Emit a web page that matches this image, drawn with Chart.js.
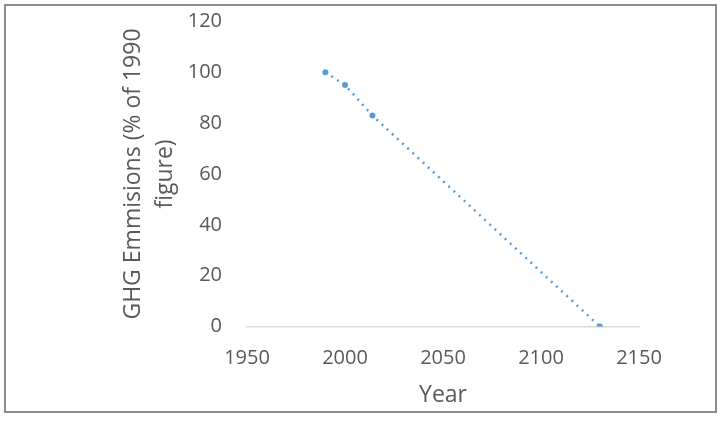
<!DOCTYPE html>
<html>
<head>
<meta charset="utf-8">
<script src="https://cdn.jsdelivr.net/npm/chart.js@4"></script>
<style>
  body { margin: 0; background: #fff; }
  #box {
    position: absolute; left: 4px; top: 4px;
    width: 709px; height: 405px;
    border: 2px solid #8c8c8c;
  }
  canvas { display: block; }
</style>
</head>
<body>
<div id="box"><canvas id="chart" width="709" height="405"></canvas></div>
<script>
// values
const years = [1990, 2000, 2014, 2130];
const emissions = [100, 95, 83, 0];
const xTicks = [1950, 2000, 2050, 2100, 2150];
const yTicks = [0, 20, 40, 60, 80, 100, 120];

const font = "'Open Sans', sans-serif";
const grey = '#595959';

const ctx = document.getElementById('chart').getContext('2d');
new Chart(ctx, {
    type: 'scatter',
    data: {
        datasets: [{
            data: years.map((y, i) => ({ x: y, y: emissions[i] })),
            showLine: true,
            borderColor: '#5b9bd5',
            backgroundColor: '#5b9bd5',
            borderWidth: 2.5,
            borderDash: [2, 5],
            pointRadius: 3,
            pointBorderWidth: 0
        }]
    },
    options: {
        responsive: false,
        animation: false,
        layout: { padding: { left: 0, right: 76, top: 15.5, bottom: 0 } },
        plugins: { legend: { display: false }, tooltip: { enabled: false } },
        scales: {
            x: {
                type: 'linear',
                min: xTicks[0], max: xTicks[xTicks.length - 1],
                afterBuildTicks: s => { s.ticks = xTicks.map(v => ({ value: v })); },
                afterFit: s => { s.height = 84.5; },
                grid: { display: false, drawTicks: false },
                border: { display: true, color: '#d9d9d9', width: 1.5 },
                ticks: { color: grey, font: { family: font, size: 20 }, padding: 20, callback: v => String(v) },
                title: { display: true, text: 'Year', color: grey, font: { family: font, size: 23 }, padding: { top: 0, bottom: 2 } }
            },
            y: {
                min: 0, max: 120,
                afterBuildTicks: s => { s.ticks = yTicks.map(v => ({ value: v })); },
                afterFit: s => { s.width = 241; s.paddingTop = 12; s.paddingBottom = 12; },
                grid: { display: false, drawTicks: false },
                border: { display: false },
                ticks: { color: grey, font: { family: font, size: 20 }, padding: 25, callback: v => String(v) },
                title: {
                    display: true,
                    text: ['GHG Emmisions (% of 1990', 'figure)'],
                    color: grey,
                    font: { family: font, size: 23, lineHeight: 1.4 },
                    padding: { top: 111, bottom: 0 }
                }
            }
        }
    }
});
</script>
</body>
</html>
